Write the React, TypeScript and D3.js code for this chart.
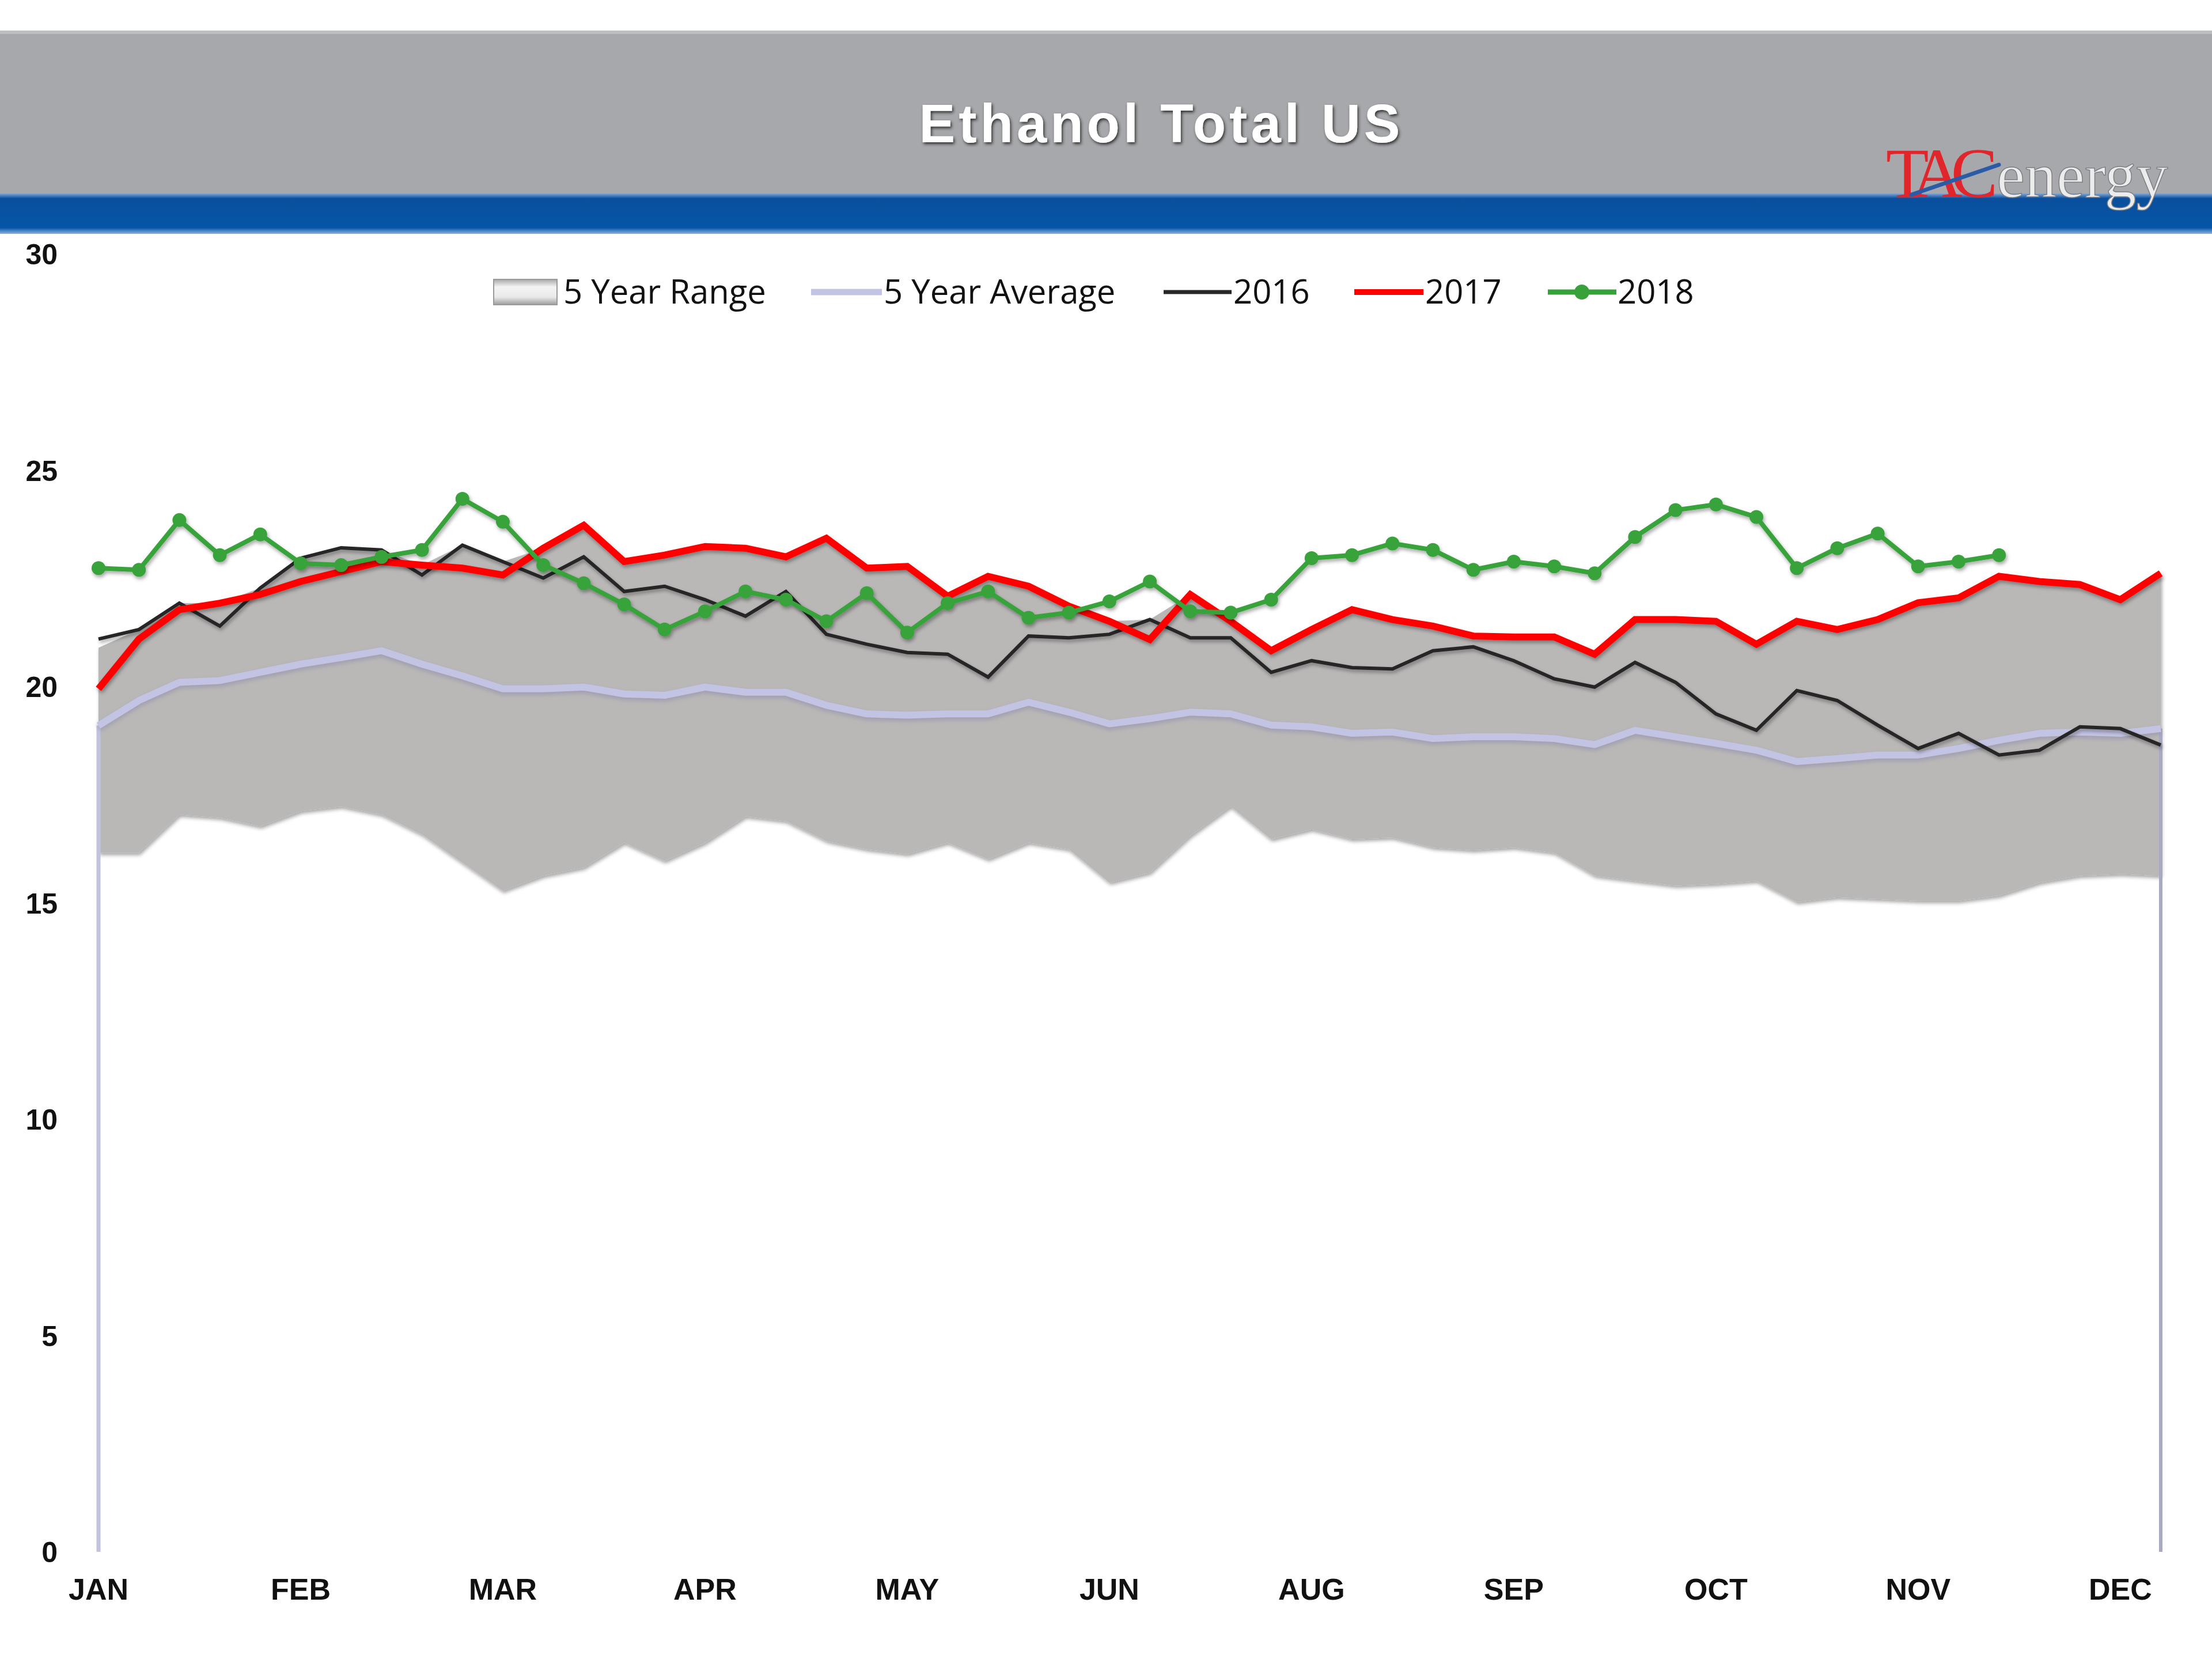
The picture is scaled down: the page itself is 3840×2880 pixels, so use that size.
import React from 'react';
import * as d3 from 'd3';

// ---- data ----
const monthLabels = ['JAN', 'FEB', 'MAR', 'APR', 'MAY', 'JUN', 'AUG', 'SEP', 'OCT', 'NOV', 'DEC'];
const monthLabelWeeks = [0, 5, 10, 15, 20, 25, 30, 35, 40, 45, 50];
const yTicks = [0, 5, 10, 15, 20, 25, 30];

const rangeMin = [16.16, 16.16, 17.04, 16.97, 16.77, 17.12, 17.23, 17.04, 16.58, 15.93, 15.28, 15.63, 15.82, 16.39, 15.97, 16.39, 17.0, 16.89, 16.43, 16.24, 16.13, 16.39, 16.01, 16.39, 16.24, 15.47, 15.7, 16.55, 17.23, 16.47, 16.7, 16.47, 16.51, 16.28, 16.22, 16.28, 16.16, 15.63, 15.51, 15.4, 15.44, 15.51, 15.02, 15.13, 15.09, 15.05, 15.05, 15.17, 15.47, 15.63, 15.67, 15.63];
const rangeMax = [20.9, 21.32, 21.93, 21.93, 22.28, 22.97, 23.21, 23.16, 22.81, 23.27, 22.89, 23.2, 23.73, 22.89, 23.04, 23.24, 23.2, 23.0, 23.43, 22.74, 22.78, 22.09, 22.55, 22.32, 21.86, 21.51, 21.55, 22.13, 21.51, 20.83, 21.32, 21.78, 21.55, 21.4, 21.17, 21.15, 21.15, 20.75, 21.55, 21.55, 21.51, 20.98, 21.51, 21.32, 21.55, 21.94, 22.05, 22.55, 22.43, 22.36, 22.01, 22.62];
const avg5 = [19.1, 19.68, 20.1, 20.14, 20.33, 20.52, 20.67, 20.83, 20.52, 20.25, 19.95, 19.95, 19.99, 19.83, 19.8, 19.99, 19.87, 19.87, 19.57, 19.37, 19.34, 19.37, 19.37, 19.64, 19.41, 19.14, 19.26, 19.41, 19.37, 19.11, 19.07, 18.92, 18.95, 18.8, 18.84, 18.84, 18.8, 18.66, 18.99, 18.84, 18.69, 18.53, 18.27, 18.34, 18.42, 18.42, 18.57, 18.76, 18.92, 18.95, 18.92, 19.03];
const y2016 = [21.1, 21.32, 21.93, 21.4, 22.28, 22.97, 23.21, 23.16, 22.58, 23.27, 22.89, 22.51, 23.0, 22.2, 22.32, 22.01, 21.63, 22.2, 21.21, 20.98, 20.79, 20.75, 20.22, 21.17, 21.13, 21.21, 21.55, 21.13, 21.13, 20.33, 20.6, 20.44, 20.41, 20.83, 20.92, 20.6, 20.18, 19.99, 20.56, 20.1, 19.37, 18.99, 19.91, 19.68, 19.11, 18.57, 18.92, 18.42, 18.53, 19.07, 19.03, 18.65];
const y2017 = [19.95, 21.1, 21.78, 21.93, 22.13, 22.43, 22.66, 22.89, 22.81, 22.74, 22.58, 23.2, 23.73, 22.89, 23.04, 23.24, 23.2, 23.0, 23.43, 22.74, 22.78, 22.09, 22.55, 22.32, 21.86, 21.51, 21.09, 22.13, 21.51, 20.83, 21.32, 21.78, 21.55, 21.4, 21.17, 21.15, 21.15, 20.75, 21.55, 21.55, 21.51, 20.98, 21.51, 21.32, 21.55, 21.94, 22.05, 22.55, 22.43, 22.36, 22.01, 22.62];
const y2018 = [22.74, 22.7, 23.85, 23.04, 23.52, 22.85, 22.81, 23.0, 23.16, 24.34, 23.81, 22.81, 22.39, 21.9, 21.32, 21.74, 22.2, 22.01, 21.51, 22.16, 21.25, 21.93, 22.2, 21.59, 21.71, 21.97, 22.43, 21.74, 21.71, 22.01, 22.97, 23.04, 23.31, 23.16, 22.7, 22.89, 22.78, 22.62, 23.46, 24.08, 24.21, 23.92, 22.74, 23.2, 23.54, 22.78, 22.89, 23.04];

const W = 3840;
const H = 2880;

export default function App() {
  const x = d3.scaleLinear().domain([0, 51]).range([171, 3751]);
  const y = d3.scaleLinear().domain([0, 30]).range([2694, 441]);

  const area = d3
    .area<number>()
    .x((_, i) => x(i))
    .y0((_, i) => y(rangeMin[i]))
    .y1((d) => y(d));
  const line = d3
    .line<number>()
    .x((_, i) => x(i))
    .y((d) => y(d));

  const rangePath = area(rangeMax) || '';
  const avgPath = line(avg5) || '';
  const p16 = line(y2016) || '';
  const p17 = line(y2017) || '';
  const p18 = line(y2018) || '';

  const axisFont = "'Liberation Sans', Arial, sans-serif";
  const legendFont = "'Open Sans', 'Noto Sans', sans-serif";
  const legendY = 507;

  return (
    <svg
      width={W}
      height={H}
      viewBox={`0 0 ${W} ${H}`}
      style={{ position: 'absolute', left: 0, top: 0, display: 'block', background: '#fff' }}
    >
      <defs>
        <filter id="shadow" x="-5%" y="-5%" width="110%" height="120%">
          <feDropShadow dx="2" dy="4" stdDeviation="3" floodColor="#000" floodOpacity="0.35" />
        </filter>
        <filter id="titleShadow" x="-5%" y="-20%" width="110%" height="140%">
          <feDropShadow dx="2" dy="3" stdDeviation="2.5" floodColor="#222" floodOpacity="0.9" />
        </filter>
        <filter id="blur3">
          <feGaussianBlur stdDeviation="3" />
        </filter>
        <linearGradient id="swatchGrad" x1="0" y1="0" x2="0" y2="1">
          <stop offset="0" stopColor="#a9a9a9" />
          <stop offset="0.3" stopColor="#f4f4f4" />
          <stop offset="0.7" stopColor="#e9e9e9" />
          <stop offset="1" stopColor="#9c9c9c" />
        </linearGradient>
        <linearGradient id="blueGrad" x1="0" y1="0" x2="0" y2="1">
          <stop offset="0" stopColor="#7fa6d6" />
          <stop offset="0.12" stopColor="#0a4f9c" />
          <stop offset="0.85" stopColor="#0556a7" />
          <stop offset="1" stopColor="#8fb2de" />
        </linearGradient>
      </defs>

      <rect x={0} y={0} width={W} height={H} fill="#fff" />

      {/* header */}
      <rect x={0} y={53} width={W} height={286} fill="#a7a8ab" />
      <rect x={0} y={53} width={W} height={6} fill="#bdbec1" />
      <rect x={0} y={336} width={W} height={70} fill="url(#blueGrad)" />
      <text
        x={2016}
        y={247}
        textAnchor="middle"
        fontFamily={axisFont}
        fontWeight="bold"
        fontSize={94}
        letterSpacing={6}
        fill="#ffffff"
        filter="url(#titleShadow)"
      >
        Ethanol Total US
      </text>
      {/* logo (single text element) */}
      <text
        x={3274}
        y={342}
        fontFamily="'Liberation Serif', 'DejaVu Serif', serif"
      >
        <tspan fontSize={122} fill="#e0262b" letterSpacing={-20}>TAC</tspan>
        <tspan dx={18} fontSize={110} fill="#ececec" stroke="#7d7f85" strokeWidth={1.5}>energy</tspan>
      </text>
      <line x1={3318} y1={338} x2={3470} y2={286} stroke="#2b5aa6" strokeWidth={7} strokeLinecap="round" />

      {/* y axis labels */}
      {yTicks.map((t) => (
        <text
          key={t}
          x={100}
          y={y(t)}
          dy="0.36em"
          textAnchor="end"
          fontFamily={axisFont}
          fontWeight="bold"
          fontSize={50}
          fill="#111"
        >
          {t}
        </text>
      ))}

      {/* x axis baseline (soft) */}
      <line x1={171} x2={3752} y1={y(0)} y2={y(0)} stroke="#cfcfcf" strokeWidth={10} filter="url(#blur3)" />

      {/* range area */}
      <path d={rangePath} fill="#bab7b7" filter="url(#shadow)" />

      {/* edge lines from average down to zero */}
      <line x1={x(0)} x2={x(0)} y1={y(avg5[0])} y2={y(0)} stroke="#c2c2de" strokeWidth={7} />
      <line x1={x(51)} x2={x(51)} y1={y(avg5[51])} y2={y(0)} stroke="#a9a9c2" strokeWidth={6} />

      {/* 5 year average */}
      <path d={avgPath} fill="none" stroke="#8c8ca8" strokeOpacity={0.5} strokeWidth={14} transform="translate(0,4)" filter="url(#blur3)" />
      <path d={avgPath} fill="none" stroke="#c3c3e4" strokeWidth={12} strokeLinejoin="round" />

      {/* 2016 */}
      <path d={p16} fill="none" stroke="#262626" strokeWidth={6} strokeLinejoin="miter" filter="url(#shadow)" />
      {/* 2017 */}
      <path d={p17} fill="none" stroke="#ff0000" strokeWidth={12} strokeLinejoin="miter" filter="url(#shadow)" />
      {/* 2018 */}
      <g filter="url(#shadow)">
        <path d={p18} fill="none" stroke="#37a23a" strokeWidth={8} strokeLinejoin="round" />
        {y2018.map((v, i) => (
          <circle key={i} cx={x(i)} cy={y(v)} r={12} fill="#37a23a" />
        ))}
      </g>

      {/* x axis labels */}
      {monthLabels.map((m, k) => (
        <text
          key={m}
          x={x(monthLabelWeeks[k])}
          y={2777}
          textAnchor="middle"
          fontFamily={axisFont}
          fontWeight="bold"
          fontSize={52}
          fill="#111"
        >
          {m}
        </text>
      ))}

      {/* legend */}
      <g fontFamily={legendFont} fontSize={58} fill="#111">
        <rect x={857} y={legendY - 22} width={110} height={44} fill="url(#swatchGrad)" stroke="#9a9a9a" strokeWidth={2} />
        <text x={978} y={legendY} dy="0.35em">5 Year Range</text>

        <line x1={1408} x2={1531} y1={legendY} y2={legendY} stroke="#c3c3e4" strokeWidth={11} />
        <text x={1534} y={legendY} dy="0.35em">5 Year Average</text>

        <line x1={2020} x2={2138} y1={legendY} y2={legendY} stroke="#262626" strokeWidth={7} />
        <text x={2141} y={legendY} dy="0.35em">2016</text>

        <line x1={2351} x2={2471} y1={legendY} y2={legendY} stroke="#ff0000" strokeWidth={10} />
        <text x={2474} y={legendY} dy="0.35em">2017</text>

        <line x1={2687} x2={2806} y1={legendY} y2={legendY} stroke="#37a23a" strokeWidth={9} />
        <circle cx={2746} cy={legendY} r={13} fill="#37a23a" />
        <text x={2808} y={legendY} dy="0.35em">2018</text>
      </g>
    </svg>
  );
}
